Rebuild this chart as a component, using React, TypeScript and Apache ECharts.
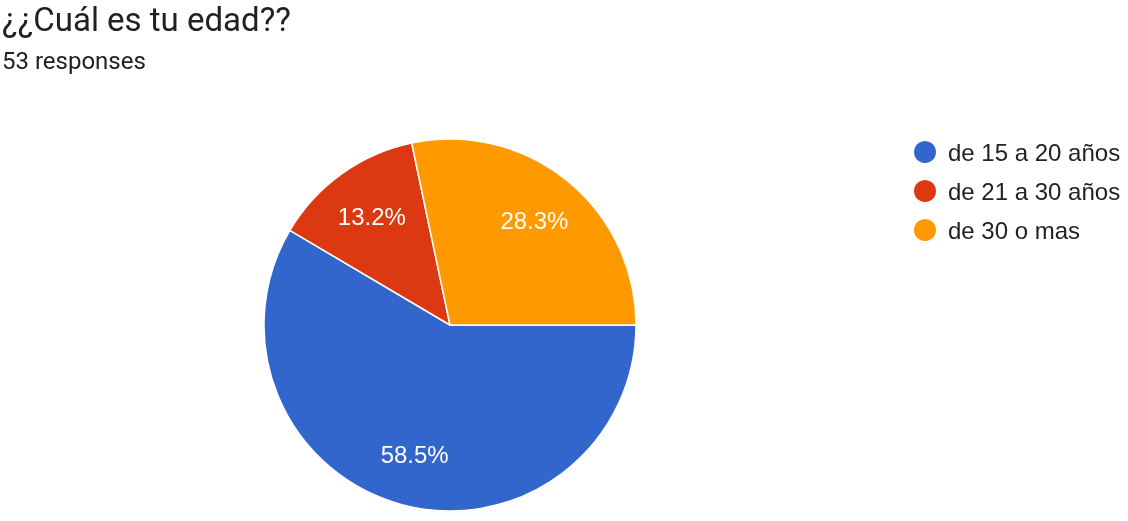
import React, { useEffect, useRef } from "react";
import * as echarts from "echarts";

const categories = ["de 15 a 20 años", "de 21 a 30 años", "de 30 o mas"];
const counts = [31, 7, 15];
const colors = ["#3366cc", "#dc3912", "#ff9900"];
const titleText = "¿¿Cuál es tu edad??";
const subtitleText = "53 responses";

export default function App() {
  const ref = useRef<HTMLDivElement>(null);
  useEffect(() => {
    const chart = echarts.init(ref.current!, undefined, { renderer: "svg" });
    const data = categories.map((name, i) => ({ name, value: counts[i] }));
    const total = counts.reduce((a, b) => a + b, 0);
    chart.setOption({
      animation: false,
      color: colors,
      title: {
        text: titleText,
        subtext: subtitleText,
        left: 0,
        top: 1,
        padding: [0, 2],
        itemGap: 12,
        textStyle: { fontFamily: "Roboto", fontSize: 33, lineHeight: 36, fontWeight: "normal", color: "#202124" },
        subtextStyle: { fontFamily: "Roboto", fontSize: 24, color: "#202124" },
      },
      legend: {
        orient: "vertical",
        left: 907,
        top: 134,
        icon: "circle",
        itemWidth: 24,
        itemHeight: 24,
        itemGap: 13,
        data: categories,
        textStyle: { fontFamily: "Liberation Sans", fontSize: 24, color: "#222222", padding: [0, 0, 0, 6] },
      },
      series: [
        {
          type: "pie",
          center: [450, 325],
          radius: 186,
          startAngle: 0,
          clockwise: true,
          data,
          label: { show: false },
          labelLine: { show: false },
          itemStyle: { borderColor: "#ffffff", borderWidth: 1.5 },
          emphasis: { disabled: true },
        },
        {
          type: "pie",
          center: [450, 325],
          radius: [76, 186],
          startAngle: 0,
          clockwise: true,
          data,
          silent: true,
          itemStyle: { color: "transparent", borderWidth: 0 },
          labelLine: { show: false },
          label: {
            show: true,
            position: "inside",
            formatter: (p: any) => ((p.value / total) * 100).toFixed(1) + "%",
            fontFamily: "Liberation Sans",
            fontSize: 24,
            color: "#ffffff",
            padding: [8, 0, 0, 0],
          },
          emphasis: { disabled: true },
        },
      ],
    });
    return () => chart.dispose();
  }, []);
  return <div ref={ref} style={{ position: "fixed", left: 0, top: 0, width: 1128, height: 521 }} />;
}
